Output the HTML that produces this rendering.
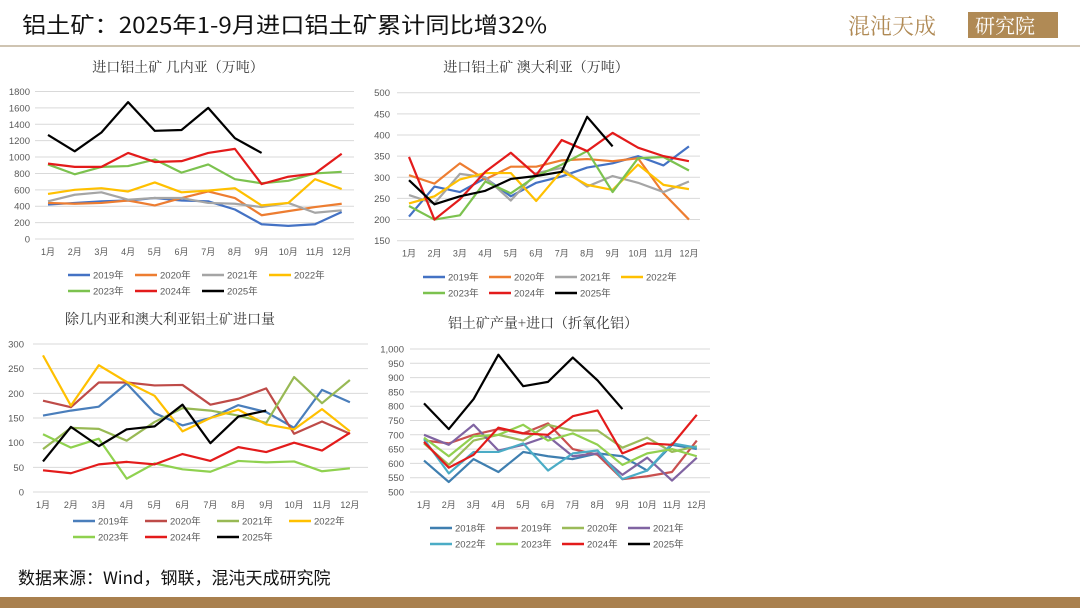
<!DOCTYPE html>
<html><head><meta charset="utf-8"><style>
body{margin:0;width:1080px;height:608px;overflow:hidden;background:#fff;font-family:"Liberation Sans","Noto Sans CJK SC",sans-serif;}
</style></head><body>
<svg id="s" width="1080" height="608" xmlns="http://www.w3.org/2000/svg" font-family="Liberation Sans, Noto Sans CJK SC, sans-serif">
<text x="22" y="33" font-size="22" fill="#111" font-family="Noto Sans CJK SC, sans-serif" textLength="525" lengthAdjust="spacingAndGlyphs">铝土矿：2025年1-9月进口铝土矿累计同比增32%</text>
<text x="848" y="34" font-size="22" fill="#b08a55" font-family="Noto Serif CJK SC, serif">混沌天成</text>
<rect x="968" y="12" width="90" height="26" fill="#b08a55"/>
<text x="975" y="33" font-size="20" fill="#fff" font-family="Noto Serif CJK SC, serif">研究院</text>
<rect x="0" y="45" width="1080" height="2" fill="#cfc4b2"/>
<text x="18" y="584" font-size="17" fill="#111" font-family="Noto Sans CJK SC, sans-serif">数据来源：Wind，钢联，混沌天成研究院</text>
<rect x="0" y="597" width="1080" height="11" fill="#a9804e"/>
<g id="g"></g>
</svg>
<script>
const NS="http://www.w3.org/2000/svg",G=document.getElementById('g');
function el(t,a,txt){const e=document.createElementNS(NS,t);for(const k in a)e.setAttribute(k,a[k]);if(txt!=null)e.textContent=txt;G.appendChild(e);return e;}
function chart(c){
 el('text',{x:c.tx,y:c.ty,'font-size':14,'text-anchor':'middle',fill:'#333','font-family':'Noto Serif CJK SC, serif'},c.title);
 const Y=v=>c.y1+(c.vmax-v)/(c.vmax-c.vmin)*(c.y0-c.y1);
 for(let v=c.vmin;v<=c.vmax+1e-9;v+=c.step){const y=Y(v);
  el('line',{x1:c.gx0,x2:c.gx1,y1:y,y2:y,stroke:'#d9d9d9','stroke-width':1});
  el('text',{x:c.lx,y:y+3.5,'font-size':9.5,'text-anchor':'end',fill:'#595959'},c.fmt?c.fmt(v):v);}
 for(let i=0;i<12;i++)el('text',{x:c.x0+i*c.dx,y:c.y0+16,'font-size':9,'text-anchor':'middle',fill:'#595959'},(i+1)+'月');
 c.s.forEach(s=>{el('polyline',{points:s[2].map((v,i)=>(c.x0+i*c.dx)+','+Y(v)).join(' '),fill:'none',stroke:s[1],'stroke-width':2.2,'stroke-linejoin':'round'});});
 c.s.forEach((s,k)=>{const r=k<c.per?0:1,ci=k<c.per?k:k-c.per;const x=c.legx+ci*c.legw,y=c.legy+r*16;
  el('line',{x1:x,x2:x+22,y1:y,y2:y,stroke:s[1],'stroke-width':2.5});
  el('text',{x:x+25,y:y+3.5,'font-size':9.5,fill:'#595959'},s[0]);});
}
const C1=['#4472c4','#ed7d31','#a5a5a5','#ffc000','#7cc24f','#e31b1b','#000'];
const Y7=['2019年','2020年','2021年','2022年','2023年','2024年','2025年'];
function mk(cols,names,data){return data.map((d,i)=>[names[i],cols[i],d]);}
chart({title:'进口铝土矿 几内亚（万吨）',tx:178,ty:72,vmin:0,vmax:1800,step:200,y0:239,y1:91.5,gx0:35,gx1:354,lx:30,x0:48,dx:26.7,legx:68,legw:67,legy:275,per:4,
 s:mk(C1,Y7,[[420,440,460,470,500,470,460,360,180,160,180,330],[440,430,440,470,410,500,580,500,290,340,390,430],[460,540,570,480,500,500,440,430,390,440,320,350],[550,600,620,580,690,570,590,620,410,440,730,610],[910,790,880,890,970,810,910,730,680,710,800,820],[920,880,880,1050,940,950,1050,1100,670,760,800,1040],[1270,1070,1300,1670,1320,1330,1600,1230,1050]])});
chart({title:'进口铝土矿 澳大利亚（万吨）',tx:536,ty:72,vmin:150,vmax:500,step:50,y0:240.7,y1:92.7,gx0:397,gx1:700,lx:390,x0:409,dx:25.45,legx:423,legw:66,legy:277,per:4,
 s:mk(C1,Y7,[[207,278,265,298,255,287,302,323,333,350,328,373],[305,285,333,295,325,325,340,343,338,345,262,200],[258,238,308,300,245,310,322,278,303,287,265,290],[238,255,295,310,310,244,315,282,270,330,282,272],[232,200,210,290,262,303,330,362,265,345,348,316],[348,200,248,313,358,305,388,362,405,370,350,338],[293,236,255,268,296,303,313,443,373]])});
const C3=['#4a7ebb','#be4b48','#98b954','#ffc000','#8fd14f','#e31b1b','#000'];
chart({title:'除几内亚和澳大利亚铝土矿进口量',tx:170,ty:324,vmin:0,vmax:300,step:50,y0:492,y1:344,gx0:33,gx1:368,lx:24,x0:43,dx:27.9,legx:73,legw:72,legy:521,per:4,
 s:mk(C3,Y7,[[155,165,173,220,160,135,150,176,162,130,207,182],[185,172,222,222,216,217,177,189,210,118,143,118],[87,130,128,104,142,170,165,155,140,233,180,227],[277,175,257,223,195,123,150,167,137,127,168,123],[117,90,108,27,58,46,41,63,60,62,42,48],[44,38,56,61,56,77,63,91,81,100,84,120],[62,132,93,127,133,177,99,153,165]])});
const C4=['#3f7fb0','#c9504f','#9bbb59','#8064a2','#4bacc6','#92d050','#e31b1b','#000'];
chart({title:'铝土矿产量+进口（折氧化铝）',tx:543,ty:328,vmin:500,vmax:1000,step:50,y0:492,y1:349,gx0:410,gx1:710,lx:404,x0:424,dx:24.8,legx:430,legw:66,legy:528,per:4,fmt:v=>v>=1000?'1,000':v,
 s:mk(C4,['2018年','2019年','2020年','2021年','2022年','2023年','2024年','2025年'],[[610,535,615,570,640,625,615,635,625,575,665,650],[680,670,700,720,705,740,650,630,545,555,570,680],[670,595,680,700,680,735,715,715,655,690,640,660],[700,665,735,645,665,695,625,635,560,620,540,620],[685,565,640,640,670,575,635,645,545,575,670,655],[690,625,695,700,735,680,705,665,595,635,650,625],[675,585,630,725,705,700,765,785,635,670,665,770],[810,720,825,980,870,885,970,890,790]])});
</script>
</body></html>
